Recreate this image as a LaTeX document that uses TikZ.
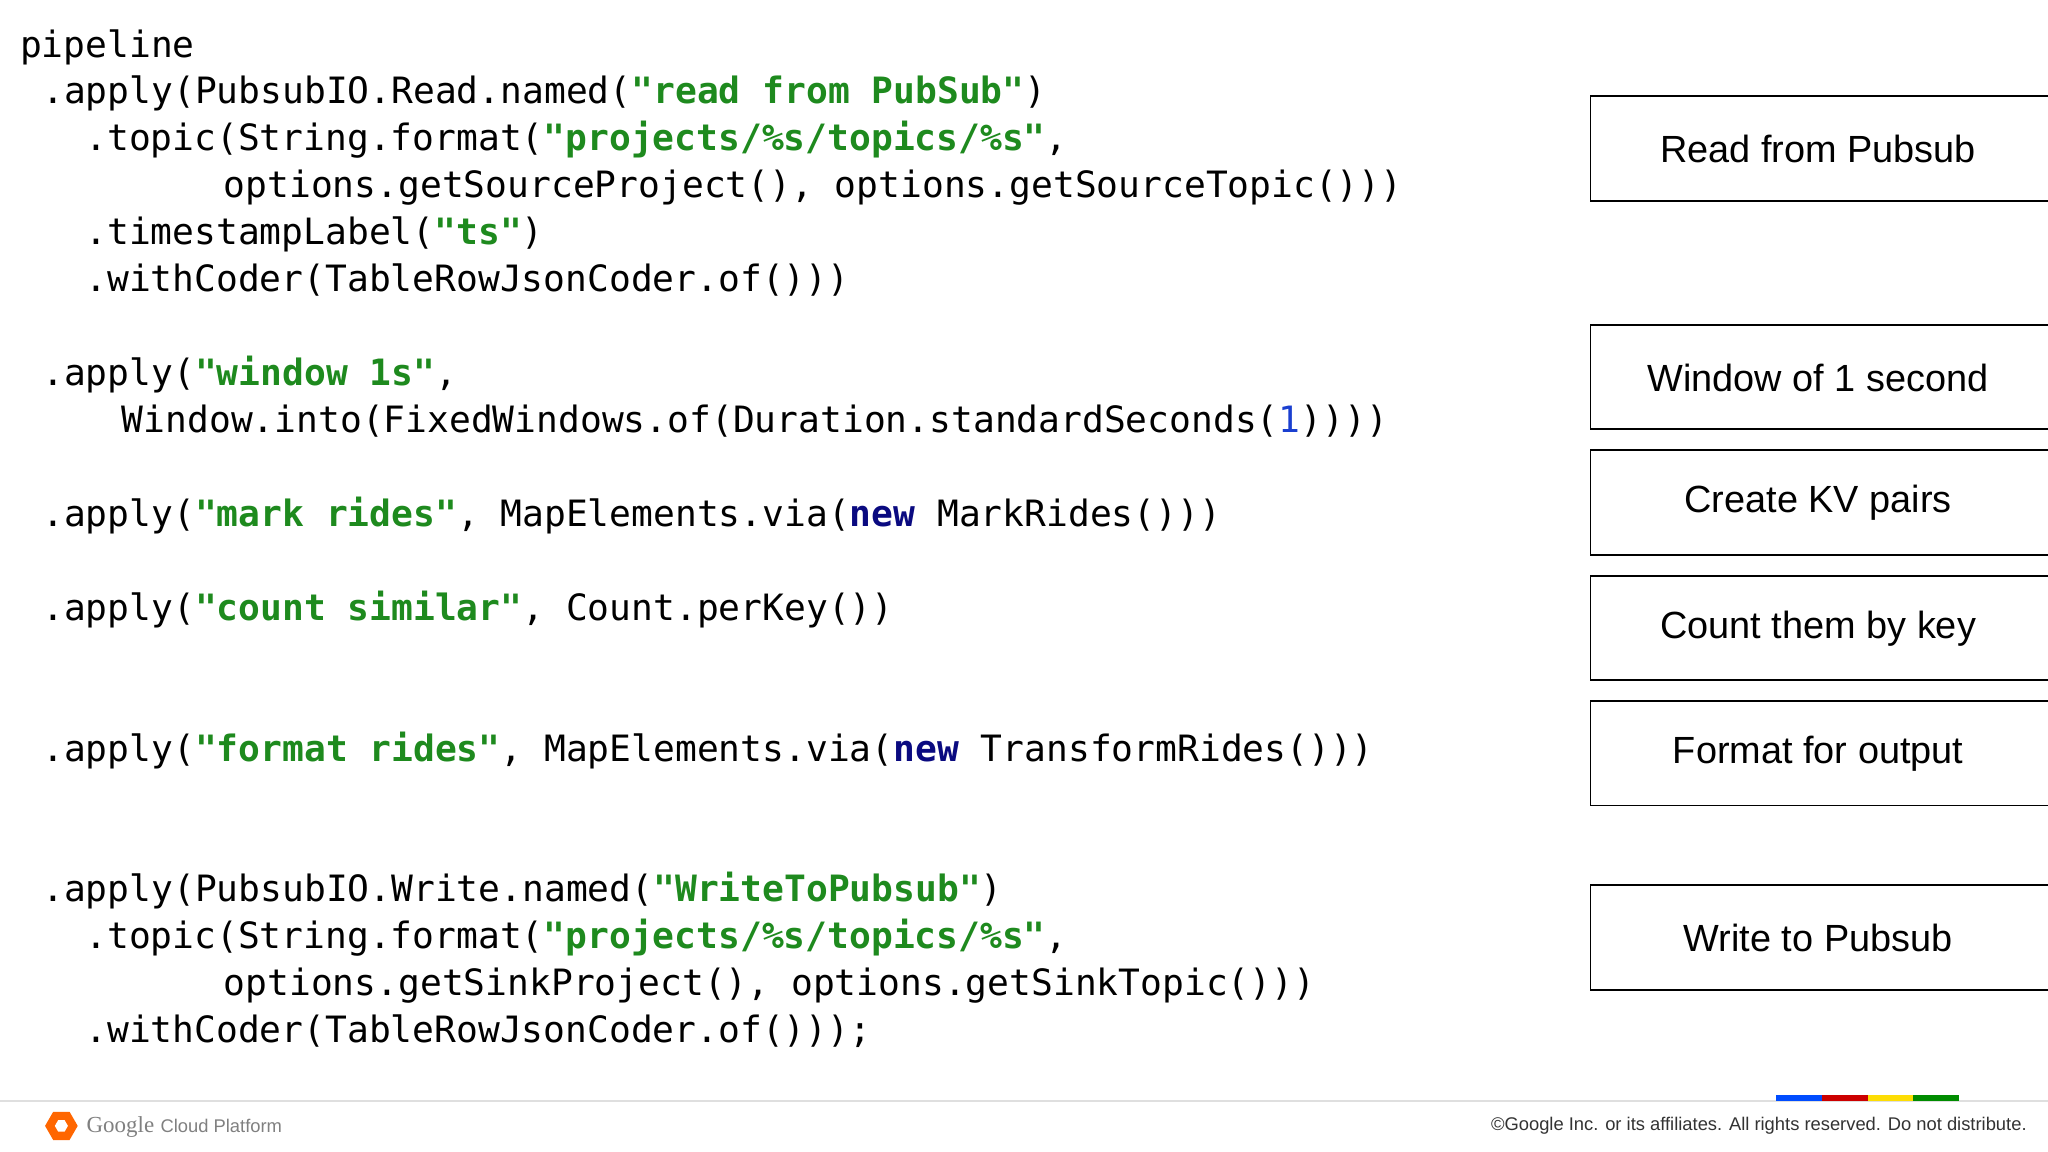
\documentclass[tikz,border=0pt]{standalone}
\usepackage{fontspec}
\usetikzlibrary{shapes.geometric}
\setmainfont{Liberation Sans}
\newfontfamily\codefont{DejaVu Sans Mono}
\newfontfamily\serifg{Liberation Serif}
\definecolor{strg}{HTML}{1E8A1E}
\definecolor{kw}{HTML}{0A0A80}
\definecolor{num}{HTML}{1A3FD0}
\begin{document}
\begin{tikzpicture}[x=0.02cm,y=-0.02cm,
  code/.style={anchor=base west,inner sep=0,font=\codefont\fontsize{15.8}{18}\selectfont},
  box/.style={draw=black,line width=0.8pt,minimum width=7.02cm,minimum height=1.6cm,anchor=north west,inner sep=0,font=\fontsize{16.5}{19}\selectfont,text depth=0pt},
  lbl/.style={font=\fontsize{16.5}{19}\selectfont,inner sep=0}]
\newcommand{\st}[1]{\textcolor{strg}{\textbf{#1}}}
\newcommand{\kwd}[1]{\textcolor{kw}{\textbf{#1}}}
\useasboundingbox[fill=white] (0,0) rectangle (1568,882);
\node[code] (l1) at (15,44) {pipeline};
\node[code] (l2) at (32,79) {.apply(PubsubIO.Read.named(\st{"read from PubSub"})};
\node[code] (l3) at (65,115) {.topic(String.format(\st{"projects/\%s/topics/\%s"},};
\node[code] (l4) at (171,151) {options.getSourceProject(), options.getSourceTopic()))};
\node[code] (l5) at (65,187) {.timestampLabel(\st{"ts"})};
\node[code] (l6) at (65,223) {.withCoder(TableRowJsonCoder.of()))};
\node[code] (l7) at (32,295) {.apply(\st{"window 1s"},};
\node[code] (l8) at (93,331) {Window.into(FixedWindows.of(Duration.standardSeconds(\textcolor{num}{1}))))};
\node[code] (l9) at (32,403) {.apply(\st{"mark rides"}, MapElements.via(\kwd{new} MarkRides()))};
\node[code] (l10) at (32,475) {.apply(\st{"count similar"}, Count.perKey())};
\node[code] (l11) at (32,583) {.apply(\st{"format rides"}, MapElements.via(\kwd{new} TransformRides()))};
\node[code] (l12) at (32,690) {.apply(PubsubIO.Write.named(\st{"WriteToPubsub"})};
\node[code] (l13) at (65,726) {.topic(String.format(\st{"projects/\%s/topics/\%s"},};
\node[code] (l14) at (171,762) {options.getSinkProject(), options.getSinkTopic()))};
\node[code] (l15) at (65,798) {.withCoder(TableRowJsonCoder.of()));};
\node[box] (b1) at (1217,73) {};
\node[lbl] (t1) at (1392,114) {Read from Pubsub};
\node[box] (b2) at (1217,248) {};
\node[lbl] (t2) at (1392,289) {Window of 1 second};
\node[box] (b3) at (1217,344) {};
\node[lbl] (t3) at (1392,385) {Create KV pairs};
\node[box] (b4) at (1217,440) {};
\node[lbl] (t4) at (1392,481) {Count them by key};
\node[box] (b5) at (1217,536) {};
\node[lbl] (t5) at (1392,577) {Format for output};
\node[box] (b6) at (1217,677) {};
\node[lbl] (t6) at (1392,718) {Write to Pubsub};
% footer
\draw[gray!25,line width=0.6pt] (0,843) -- (1568,843);
\fill[blue!70!cyan] (1360,838) rectangle (1395,843);
\fill[red!80!black] (1395,838) rectangle (1430,843);
\fill[yellow!80!orange] (1430,838) rectangle (1465,843);
\fill[green!55!black] (1465,838) rectangle (1500,843);
\node[regular polygon,regular polygon sides=6,fill=orange!80!red,minimum size=0.5cm,inner sep=0] (logo) at (47,862) {};
\node[regular polygon,regular polygon sides=6,fill=white,minimum size=0.2cm,inner sep=0] (logoin) at (47,862) {};
\node[anchor=west,inner sep=0,text=gray] (g) at (66,863) {{\serifg\fontsize{10}{12}\selectfont Google} {\fontsize{8}{10}\selectfont Cloud Platform}};
\node[anchor=east,inner sep=0,font=\fontsize{8}{10}\selectfont,text=black!80] (c) at (1552,862) {©Google Inc. or its affiliates. All rights reserved. Do not distribute.};
\end{tikzpicture}
\end{document}
